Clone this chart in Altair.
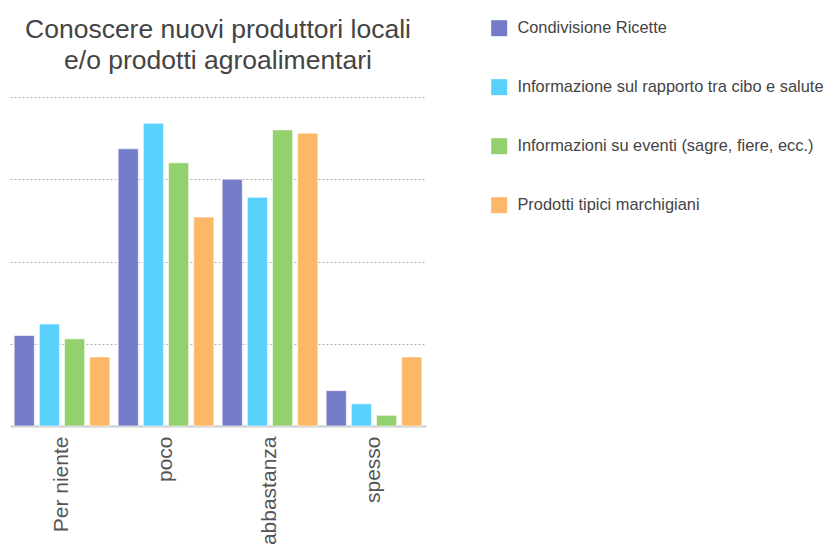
import altair as alt
import pandas as pd

categories = ["Per niente", "poco", "abbastanza", "spesso"]
series = [
    "Condivisione Ricette",
    "Informazione sul rapporto tra cibo e salute",
    "Informazioni su eventi (sagre, fiere, ecc.)",
    "Prodotti tipici marchigiani",
]
colors = ["#747BC9", "#5AD0FC", "#93D06E", "#FDB768"]

condivisione = [5.5, 16.85, 15.0, 2.15]
informazione = [6.2, 18.4, 13.9, 1.35]
eventi = [5.3, 16.0, 18.0, 0.65]
prodotti = [4.2, 12.7, 17.8, 4.2]

rows = []
for s, vals in zip(series, [condivisione, informazione, eventi, prodotti]):
    for c, v in zip(categories, vals):
        rows.append({"cat": c, "serie": s, "val": v})
df = pd.DataFrame(rows)

FONT = "Liberation Sans"

chart = (
    alt.Chart(df)
    .mark_bar(stroke="white", strokeWidth=1, strokeOpacity=0.6)
    .encode(
        x=alt.X(
            "cat:N",
            sort=categories,
            title=None,
            scale=alt.Scale(paddingInner=0.08, paddingOuter=0.04),
            axis=alt.Axis(
                labelAngle=-90,
                labelFontSize=21,
                labelColor="#555555",
                labelFont=FONT,
                labelPadding=10,
                ticks=False,
                domainColor="#cccccc",
                domainWidth=2,
            ),
        ),
        xOffset=alt.XOffset("serie:N", sort=series, scale=alt.Scale(paddingInner=0.2)),
        y=alt.Y(
            "val:Q",
            title=None,
            scale=alt.Scale(domain=[0, 20], nice=False),
            axis=alt.Axis(
                values=[5, 10, 15, 20],
                labels=False,
                ticks=False,
                domain=False,
                grid=True,
                gridDash=[2, 2],
                gridColor="#b0b0b0",
                gridWidth=1,
            ),
        ),
        color=alt.Color(
            "serie:N",
            sort=series,
            scale=alt.Scale(domain=series, range=colors),
            legend=alt.Legend(
                title=None,
                orient="none",
                legendX=481,
                legendY=-77,
                direction="vertical",
                symbolType="square",
                symbolSize=256,
                symbolStrokeWidth=0,
                symbolOpacity=1,
                labelFontSize=16.4,
                labelFont=FONT,
                labelColor="#444444",
                labelOffset=10,
                rowPadding=42,
                labelLimit=400,
            ),
        ),
    )
    .properties(
        width=416,
        height=329,
        title=alt.TitleParams(
            text=["Conoscere nuovi produttori locali", "e/o prodotti agroalimentari"],
            fontSize=26.5,
            font=FONT,
            fontWeight="normal",
            color="#444444",
            anchor="middle",
            offset=-54,
            lineHeight=31,
        ),
        autosize=alt.AutoSizeParams(type="none"),
        padding={"left": 10, "top": 97, "right": 407, "bottom": 119},
    )
    .configure_view(stroke=None)
)

chart.save("out.html", embed_options={"renderer": "svg", "actions": False})
